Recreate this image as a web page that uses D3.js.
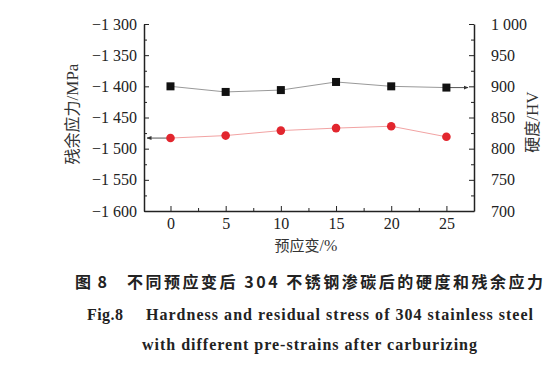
<!DOCTYPE html>
<html>
<head>
<meta charset="utf-8">
<script src="https://cdn.jsdelivr.net/npm/d3@7/dist/d3.min.js"></script>
<style>
  body { margin: 0; background: #fff; }
  svg { display: block; }
</style>
</head>
<body>
<div id="chart"></div>
<script>
// pre-strain (%), hardness (HV, right axis), residual stress (MPa, left axis)
var strains = [0, 5, 10, 15, 20, 25];
var hardness = [900, 891, 894, 907, 900, 898];
var stress = [-1483, -1479, -1471, -1467, -1464, -1481];

var xTicks = [0, 5, 10, 15, 20, 25];
var xMinor = [2.5, 7.5, 12.5, 17.5, 22.5];
var leftTicks = [-1600, -1550, -1500, -1450, -1400, -1350, -1300];
var rightTicks = [700, 750, 800, 850, 900, 950, 1000];

var W = 560, H = 370;
var svg = d3.select("#chart").append("svg").attr("width", W).attr("height", H);
svg.append("rect").attr("width", W).attr("height", H).attr("fill", "#fff");

var plot = { left: 144, right: 474, top: 24, bottom: 211 };

var x = d3.scaleLinear().domain([-2.4, 27.5]).range([plot.left, plot.right]);
var yL = d3.scaleLinear().domain([-1600, -1300]).range([plot.bottom, plot.top]);
var yR = d3.scaleLinear().domain([700, 1000]).range([plot.bottom, plot.top]);

var loc = d3.formatLocale({ decimal: ".", thousands: " ", grouping: [3], currency: ["", ""], minus: "\u2212" });
var fmt = loc.format(",d");
var serif = '"Liberation Serif", serif';

function minorOf(ticks) {
  var m = [];
  for (var i = 0; i < ticks.length - 1; i++) m.push((ticks[i] + ticks[i + 1]) / 2);
  return m;
}
function styleAxis(g) {
  g.attr("font-family", serif).attr("font-size", 16);
  g.select(".domain").attr("stroke", "#222").attr("stroke-width", 1.5);
  g.selectAll(".tick line").attr("stroke", "#222");
  g.selectAll(".tick text").attr("fill", "#222").attr("font-family", serif).attr("font-size", 16);
}

// x axis
svg.append("g").attr("transform", "translate(0," + plot.bottom + ")")
  .call(d3.axisBottom(x).tickValues(xTicks).tickSizeInner(-5).tickSizeOuter(0).tickPadding(7).tickFormat(d3.format("d")))
  .call(styleAxis);
svg.append("g").attr("transform", "translate(0," + plot.bottom + ")")
  .call(d3.axisBottom(x).tickValues(xMinor).tickSizeInner(-3).tickSizeOuter(0).tickFormat(""))
  .call(function(g){ g.select(".domain").remove(); g.selectAll("line").attr("stroke", "#222"); });

// left axis
svg.append("g").attr("transform", "translate(" + plot.left + ",0)")
  .call(d3.axisLeft(yL).tickValues(leftTicks).tickSizeInner(-5).tickSizeOuter(0).tickPadding(7).tickFormat(fmt))
  .call(styleAxis);
svg.append("g").attr("transform", "translate(" + plot.left + ",0)")
  .call(d3.axisLeft(yL).tickValues(minorOf(leftTicks)).tickSizeInner(-3).tickSizeOuter(0).tickFormat(""))
  .call(function(g){ g.select(".domain").remove(); g.selectAll("line").attr("stroke", "#222"); });

// right axis
svg.append("g").attr("transform", "translate(" + plot.right + ",0)")
  .call(d3.axisRight(yR).tickValues(rightTicks).tickSizeInner(-5).tickSizeOuter(0).tickPadding(17).tickFormat(fmt))
  .call(styleAxis);
svg.append("g").attr("transform", "translate(" + plot.right + ",0)")
  .call(d3.axisRight(yR).tickValues(minorOf(rightTicks)).tickSizeInner(-3).tickSizeOuter(0).tickFormat(""))
  .call(function(g){ g.select(".domain").remove(); g.selectAll("line").attr("stroke", "#222"); });

// arrow markers
var defs = svg.append("defs");
defs.append("marker").attr("id", "arr").attr("viewBox", "0 0 10 10").attr("refX", 9).attr("refY", 5)
  .attr("markerWidth", 5).attr("markerHeight", 5).attr("orient", "auto")
  .append("path").attr("d", "M0,1 L10,5 L0,9 Z").attr("fill", "#333");

// lines
var lineL = d3.line().x(function(d, i){ return x(strains[i]); }).y(function(d){ return yL(d); });
var lineR = d3.line().x(function(d, i){ return x(strains[i]); }).y(function(d){ return yR(d); });

svg.append("path").attr("d", lineR(hardness)).attr("fill", "none").attr("stroke", "#999").attr("stroke-width", 1);
svg.append("path").attr("d", lineL(stress)).attr("fill", "none").attr("stroke", "#f2a3a3").attr("stroke-width", 1);

// axis-pointing arrows
svg.append("line")
  .attr("x1", x(strains[0])).attr("y1", yL(stress[0]))
  .attr("x2", plot.left + 3).attr("y2", yL(stress[0]))
  .attr("stroke", "#555").attr("stroke-width", 1).attr("marker-end", "url(#arr)");
var last = strains.length - 1;
svg.append("line")
  .attr("x1", x(strains[last])).attr("y1", yR(hardness[last]))
  .attr("x2", plot.right - 6).attr("y2", yR(hardness[last]))
  .attr("stroke", "#555").attr("stroke-width", 1).attr("marker-end", "url(#arr)");

// markers
svg.selectAll(".sq").data(hardness).enter().append("rect").attr("class", "sq")
  .attr("x", function(d, i){ return x(strains[i]) - 4; })
  .attr("y", function(d){ return yR(d) - 4; })
  .attr("width", 8).attr("height", 8).attr("fill", "#111");
svg.selectAll(".dot").data(stress).enter().append("circle").attr("class", "dot")
  .attr("cx", function(d, i){ return x(strains[i]); })
  .attr("cy", function(d){ return yL(d); })
  .attr("r", 4.3).attr("fill", "#e2262e");

// axis titles (CJK part + serif unit part)
var cjk = '"Noto Sans CJK SC", "Liberation Serif", serif';
function title(tf, zh, unit, size) {
  var t = svg.append("text").attr("transform", tf)
    .attr("text-anchor", "middle").attr("font-size", size).attr("fill", "#333");
  t.append("tspan").attr("font-family", cjk).text(zh);
  t.append("tspan").attr("font-family", serif).attr("font-size", size + 1).text(unit);
}
title("translate(78,114) rotate(-90)", "残余应力", "/MPa", 16);
title("translate(538,122) rotate(-90)", "硬度", "/HV", 16);
title("translate(306,251)", "预应变", "/%", 15);

// caption
function cap(tx, x0, y0, len, fam, size) {
  var t = svg.append("text").attr("x", x0).attr("y", y0)
    .attr("font-family", fam).attr("font-weight", "bold").attr("font-size", size).attr("fill", "#222")
    .text(tx);
  if (len) t.attr("textLength", len).attr("lengthAdjust", "spacing");
  return t;
}
var times = '"Liberation Serif", serif';
cap("图 8", 75, 288, 32, cjk, 16);
cap("不同预应变后 304 不锈钢渗碳后的硬度和残余应力", 127, 288, 416, cjk, 16);
cap("Fig.8", 87, 320, 36, times, 16);
cap("Hardness and residual stress of 304 stainless steel", 146, 320, 387, times, 16);
cap("with different pre-strains after carburizing", 142, 350, 335, times, 16);
</script>
</body>
</html>
